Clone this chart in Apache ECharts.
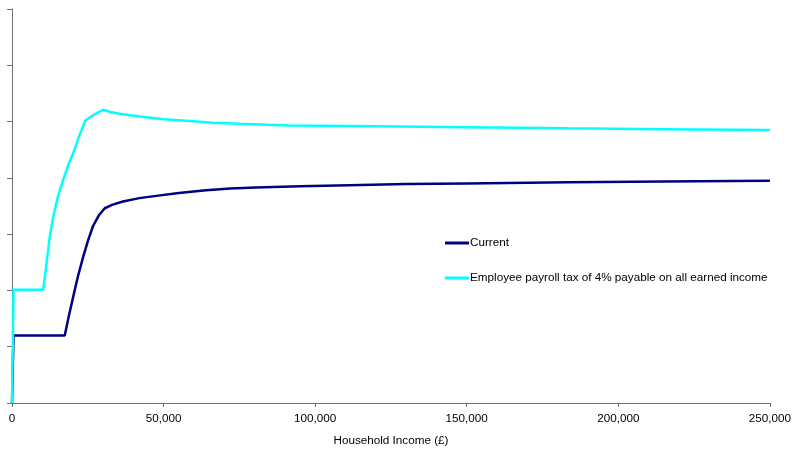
<!DOCTYPE html>
<html>
<head>
<meta charset="utf-8">
<script src="https://cdn.jsdelivr.net/npm/echarts@6/dist/echarts.min.js"></script>
<style>html,body{margin:0;padding:0;background:#fff}#c{width:794px;height:453px}</style>
</head>
<body>
<div id="c"></div>
<script>
// Household income (£) and values (arbitrary units, axis unlabeled)
const currentIncome = [0, 500, 17400, 18800, 20200, 21800, 23500, 25100, 26700, 28600, 30600, 33000, 36600, 42000, 47600, 55000, 64000, 72000, 80500, 95000, 111200, 130000, 150000, 183600, 215000, 250000];
const currentValues = [0, 12.0, 12.0, 15.6, 18.9, 22.6, 26.0, 28.9, 31.4, 33.3, 34.6, 35.2, 35.8, 36.4, 36.8, 37.3, 37.8, 38.1, 38.3, 38.5, 38.7, 38.9, 39.0, 39.2, 39.35, 39.5];
const payrollIncome = [0, 500, 10300, 11400, 12400, 13600, 15200, 16900, 18500, 20200, 22200, 24200, 27000, 30000, 32500, 35500, 42100, 50000, 58600, 66000, 75000, 91400, 111200, 150000, 183600, 215000, 250000];
const payrollValues = [0, 20.1, 20.1, 24.9, 29.3, 33.1, 36.8, 39.7, 42.2, 44.4, 47.5, 50.2, 51.2, 52.1, 51.7, 51.4, 50.9, 50.4, 50.1, 49.8, 49.6, 49.3, 49.2, 49.0, 48.8, 48.65, 48.5];
const seriesNames = ['Current', 'Employee payroll tax of 4% payable on all earned income'];
const xTicks = [0, 50000, 100000, 150000, 200000, 250000];

const zip = (a, b) => a.map((v, i) => [v, b[i]]);
const chart = echarts.init(document.getElementById('c'), null, {renderer: 'canvas'});
chart.setOption({
  animation: false,
  backgroundColor: '#ffffff',
  textStyle: {fontFamily: 'Liberation Sans, Arial, sans-serif'},
  grid: {left: 12, right: 22, top: 9, bottom: 50, containLabel: false},
  legend: {
    orient: 'vertical', left: 445, top: 236, itemGap: 21, padding: 0,
    itemWidth: 24, itemHeight: 3, icon: 'rect', itemStyle: {borderWidth: 0},
    textStyle: {fontSize: 11.7, color: '#000', padding: [0, 0, 0, -4], lineHeight: 14},
    data: seriesNames
  },
  xAxis: {
    type: 'value', min: 0, max: 250000, interval: 50000,
    name: 'Household Income (£)', nameLocation: 'middle', nameGap: 32,
    nameTextStyle: {fontSize: 11.7, color: '#000'},
    axisLine: {show: true, lineStyle: {color: '#707070', width: 1}},
    axisTick: {show: true, inside: false, length: 4, lineStyle: {color: '#707070'}},
    axisLabel: {fontSize: 11.7, color: '#000', margin: 10,
      formatter: v => xTicks.includes(v) ? v.toLocaleString('en-GB') : ''},
    splitLine: {show: false}
  },
  yAxis: {
    type: 'value', min: 0, max: 70, interval: 10,
    axisLine: {show: true, lineStyle: {color: '#707070', width: 1}},
    axisTick: {show: true, inside: false, length: 5, lineStyle: {color: '#707070'}},
    axisLabel: {show: false},
    splitLine: {show: false}
  },
  series: [
    {name: seriesNames[0], type: 'line', data: zip(currentIncome, currentValues), smooth: false,
     showSymbol: false, lineStyle: {color: '#000080', width: 2.5}, itemStyle: {color: '#000080'}},
    {name: seriesNames[1], type: 'line', data: zip(payrollIncome, payrollValues), smooth: false,
     showSymbol: false, lineStyle: {color: '#00FFFF', width: 2.5}, itemStyle: {color: '#00FFFF'}}
  ]
});
</script>
</body>
</html>
